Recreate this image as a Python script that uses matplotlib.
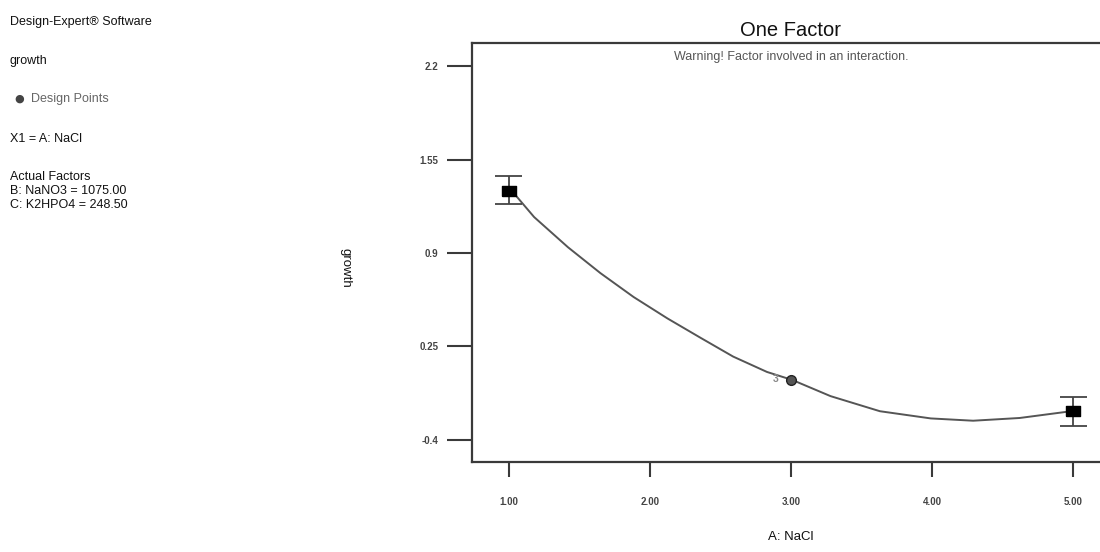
import matplotlib
matplotlib.use("Agg")
import matplotlib.pyplot as plt

plt.rcParams['font.family'] = ['Liberation Sans', 'DejaVu Sans']

# Data
curve_x = [1.00, 1.05, 1.18, 1.42, 1.65, 1.885, 2.125, 2.36, 2.59, 2.83, 3.01,
           3.28, 3.63, 3.99, 4.29, 4.62, 5.00]
curve_y = [1.34, 1.30, 1.15, 0.94, 0.76, 0.594, 0.445, 0.31, 0.18, 0.073, 0.017,
           -0.095, -0.20, -0.25, -0.266, -0.247, -0.198]

mean_x = [1.00, 5.00]
mean_y = [1.33, -0.20]
err_lo = [1.24, -0.30]
err_hi = [1.435, -0.10]

design_x = [3.00]
design_y = [0.017]
design_count = ["3"]

x_ticks = [1.00, 2.00, 3.00, 4.00, 5.00]
x_ticklabels = ["1.00", "2.00", "3.00", "4.00", "5.00"]
y_ticks = [-0.4, 0.25, 0.9, 1.55, 2.2]
y_ticklabels = ["-0.4", "0.25", "0.9", "1.55", "2.2"]

info_lines = ["Design-Expert® Software", "growth", "Design Points", "X1 = A: NaCl",
              "Actual Factors", "B: NaNO3 = 1075.00", "C: K2HPO4 = 248.50"]

W, H = 1100, 552
fig = plt.figure(figsize=(W / 100, H / 100), dpi=100)
fig.patch.set_facecolor('white')

ax_l, ax_r, ax_t, ax_b = 472, 1110, 43, 462
ax = fig.add_axes([ax_l / W, 1 - ax_b / H, (ax_r - ax_l) / W, (ax_b - ax_t) / H])
ax.set_xlim(0.74, 5.26)
ax.set_ylim(-0.553, 2.36)

spine_c = '#3a3a3a'
for s in ['left', 'bottom', 'top', 'right']:
    ax.spines[s].set_color(spine_c)
    ax.spines[s].set_linewidth(1.6)

ax.plot(curve_x, curve_y, color='#555555', lw=1.4, zorder=2, solid_joinstyle='round')

for x, lo, hi in zip(mean_x, err_lo, err_hi):
    ax.vlines(x, lo, hi, color='#444444', lw=1.3, zorder=3)
    ax.hlines([lo, hi], x - 0.095, x + 0.095, color='#444444', lw=1.3, zorder=3)

rect = [(-1.0, -0.65), (1.0, -0.65), (1.0, 0.65), (-1.0, 0.65), (-1.0, -0.65)]
ax.plot(mean_x, mean_y, linestyle='none', marker=rect, markersize=10,
        color='black', zorder=4)

ax.plot(design_x, design_y, linestyle='none', marker='o', markersize=7,
        markerfacecolor='#555555', markeredgecolor='#222222', markeredgewidth=1.0, zorder=5)
for x, y, t in zip(design_x, design_y, design_count):
    ax.text(x - 0.11, y + 0.01, t, fontsize=7.5, color='#888888', ha='center', va='center',
            fontweight='bold', zorder=5)

ax.set_xticks(x_ticks)
ax.set_xticklabels(x_ticklabels)
ax.set_yticks(y_ticks)
ax.set_yticklabels(y_ticklabels)
ax.tick_params(axis='y', direction='out', length=18, width=1.5, color=spine_c,
               labelsize=7, labelcolor='#444444', pad=6)
ax.tick_params(axis='x', direction='out', length=11, width=1.5, color=spine_c,
               labelsize=7, labelcolor='#444444', pad=14)
for lab in ax.get_xticklabels() + ax.get_yticklabels():
    lab.set_fontweight('bold')

# Title, warning, axis labels
fig.text(791 / W, 1 - 31 / H, "One Factor", fontsize=14.5, ha='center', va='center', color='#111111')
fig.text(791 / W, 1 - 57 / H, "Warning! Factor involved in an interaction.", fontsize=9,
         ha='center', va='center', color='#555555')
fig.text(791 / W, 1 - 537 / H, "A: NaCl", fontsize=9.5, ha='center', va='center', color='#111111')
fig.text(345 / W, 1 - 268 / H, "growth", fontsize=9.5, ha='center', va='center',
         rotation=270, color='#111111')

# Info panel
fs = 9
fig.text(10 / W, 1 - 22 / H, info_lines[0], fontsize=fs, ha='left', va='center', color='#111111')
fig.text(10 / W, 1 - 61 / H, info_lines[1], fontsize=fs, ha='left', va='center', color='#111111')
fig.text(19 / W, 1 - 99 / H, "●", fontsize=8, ha='center', va='center', color='#444444',
         family=['DejaVu Sans'])
fig.text(31 / W, 1 - 99 / H, info_lines[2], fontsize=fs, ha='left', va='center', color='#666666')
fig.text(10 / W, 1 - 139 / H, info_lines[3], fontsize=fs, ha='left', va='center', color='#111111')
fig.text(10 / W, 1 - 177 / H, info_lines[4], fontsize=fs, ha='left', va='center', color='#111111')
fig.text(10 / W, 1 - 191 / H, info_lines[5], fontsize=fs, ha='left', va='center', color='#111111')
fig.text(10 / W, 1 - 205 / H, info_lines[6], fontsize=fs, ha='left', va='center', color='#111111')

fig.savefig("out.png", dpi=100)
